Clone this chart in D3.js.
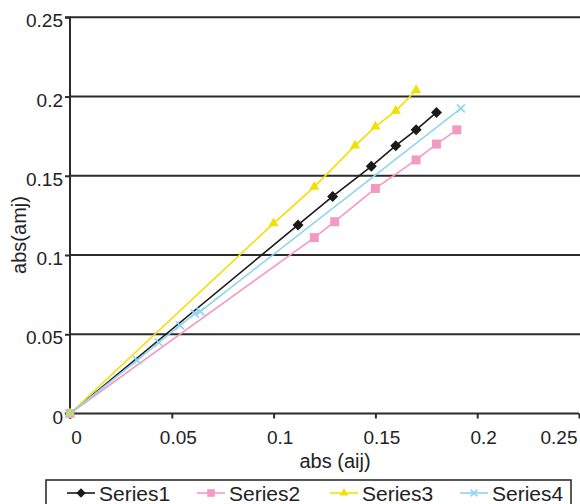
<!DOCTYPE html>
<html><head><meta charset="utf-8">
<script src="https://cdn.jsdelivr.net/npm/d3@7"></script>
<style>
html,body{margin:0;padding:0;background:#fff;}
svg{display:block;font-family:"Liberation Sans",Arial,Helvetica,sans-serif;}
</style></head>
<body>
<svg id="chart" width="580" height="504"></svg>
<script>
const seriesNames = ["Series1","Series2","Series3","Series4"];
const series1 = [[0,0],[0.112,0.119],[0.129,0.137],[0.148,0.156],[0.160,0.169],[0.170,0.179],[0.180,0.190]];
const series2 = [[0,0],[0.120,0.111],[0.130,0.121],[0.150,0.142],[0.170,0.160],[0.180,0.170],[0.190,0.179]];
const series3 = [[0,0],[0.100,0.120],[0.120,0.143],[0.140,0.169],[0.150,0.181],[0.160,0.191],[0.170,0.204]];
const series4 = [[0,0],[0.033,0.0335],[0.0436,0.0448],[0.054,0.0556],[0.0613,0.063],[0.064,0.0644],[0.192,0.1925]];
const xTicks = [0,0.05,0.1,0.15,0.2,0.25];
const yTicks = [0,0.05,0.1,0.15,0.2,0.25];
const xTickLabels = ["0","0.05","0.1","0.15","0.2","0.25"];
const yTickLabels = ["0","0.05","0.1","0.15","0.2","0.25"];
const xTitle = "abs (aij)";
const yTitle = "abs(amj)";

const colors = ["#1a1a1a","#f49ac2","#f2e000","#8fd5f2"];
const allSeries = [series1,series2,series3,series4];

const svg = d3.select("#chart");
const x = d3.scaleLinear().domain([0,0.25]).range([70,579]);
const y = d3.scaleLinear().domain([0,0.25]).range([413.5,17.3]);

// gridlines
svg.append("g").selectAll("line").data(yTicks.filter(d=>d>0)).join("line")
  .attr("x1",x(0)).attr("x2",580)
  .attr("y1",d=>y(d)).attr("y2",d=>y(d))
  .attr("stroke","#2b2b2b").attr("stroke-width",2);

// y axis
const yAxis = d3.axisLeft(y).tickValues(yTicks).tickSize(5).tickPadding(0)
  .tickFormat((d,i)=>yTickLabels[i]);
const gy = svg.append("g").attr("transform",`translate(${x(0)},0)`).call(yAxis);
gy.select(".domain").attr("stroke","#2b2b2b").attr("stroke-width",2).attr("d",`M-5,${y(0.25)}H0V${y(0)}`);
gy.selectAll(".tick line").attr("stroke","#2b2b2b").attr("stroke-width",2);
gy.selectAll(".tick text").attr("x",-7).attr("dy","0.5em")
  .attr("font-size",19).attr("fill","#222").attr("font-family","'Liberation Sans',Arial,sans-serif");

// x axis
const xAxis = d3.axisBottom(x).tickValues(xTicks).tickSize(5).tickPadding(0)
  .tickFormat((d,i)=>xTickLabels[i]);
const gx = svg.append("g").attr("transform",`translate(0,${y(0)})`).call(xAxis);
gx.select(".domain").attr("stroke","#2b2b2b").attr("stroke-width",2).attr("d",`M${x(0)},0H${x(0.25)}`);
gx.selectAll(".tick line").attr("stroke","#2b2b2b").attr("stroke-width",2);
gx.selectAll(".tick text").attr("y",30).attr("dy",0)
  .attr("font-size",19).attr("fill","#222").attr("font-family","'Liberation Sans',Arial,sans-serif")
  .attr("x",(d,i)=> i===xTicks.length-1 ? -2 : 6)
  .attr("text-anchor",(d,i)=> i===xTicks.length-1 ? "end" : "middle");

// axis titles
svg.append("text").attr("x",335).attr("y",468).attr("text-anchor","middle")
  .attr("font-size",20).attr("fill","#222").text(xTitle);
svg.append("text").attr("transform",`translate(26,235) rotate(-90)`).attr("text-anchor","middle")
  .attr("font-size",20).attr("fill","#222").text(yTitle);

// lines
const line = d3.line().x(d=>x(d[0])).y(d=>y(d[1]));
const plot = svg.append("g");
allSeries.forEach((s,i)=>{
  plot.append("path").datum(s).attr("d",line).attr("fill","none")
    .attr("stroke",colors[i]).attr("stroke-width",1.6);
});

function drawMarker(g, i, cx, cy, sc){
  const k = sc || 1;
  const c = colors[i];
  if(i===0){
    const r = 5.5*k;
    g.append("path").attr("d",`M${cx},${cy-r}L${cx+r},${cy}L${cx},${cy+r}L${cx-r},${cy}Z`).attr("fill",c);
  } else if(i===1){
    const h = 4.5*k;
    g.append("rect").attr("x",cx-h).attr("y",cy-h).attr("width",2*h).attr("height",2*h).attr("fill",c);
  } else if(i===2){
    g.append("path").attr("d",d3.symbol(d3.symbolTriangle,45*k*k)()).attr("transform",`translate(${cx},${cy})`).attr("fill",c);
  } else {
    const h = 4*k;
    g.append("path").attr("d",`M${cx-h},${cy-h}L${cx+h},${cy+h}M${cx-h},${cy+h}L${cx+h},${cy-h}`).attr("stroke",c).attr("stroke-width",1.6);
  }
}
allSeries.forEach((s,i)=>{
  s.forEach(d=>drawMarker(plot,i,x(d[0]),y(d[1])));
});

// legend
const lg = svg.append("g");
lg.append("rect").attr("x",46).attr("y",480).attr("width",525).attr("height",30)
  .attr("fill","#fff").attr("stroke","#222").attr("stroke-width",1.5);
const legendX = [67,197,330,460];
seriesNames.forEach((n,i)=>{
  const lx = legendX[i];
  lg.append("line").attr("x1",lx).attr("x2",lx+28).attr("y1",493).attr("y2",493)
    .attr("stroke",colors[i]).attr("stroke-width",1.6);
  drawMarker(lg,i,lx+14,493,0.85);
  lg.append("text").attr("x",lx+32).attr("y",501).attr("font-size",21).attr("fill","#222").text(n);
});
</script>
</body></html>
